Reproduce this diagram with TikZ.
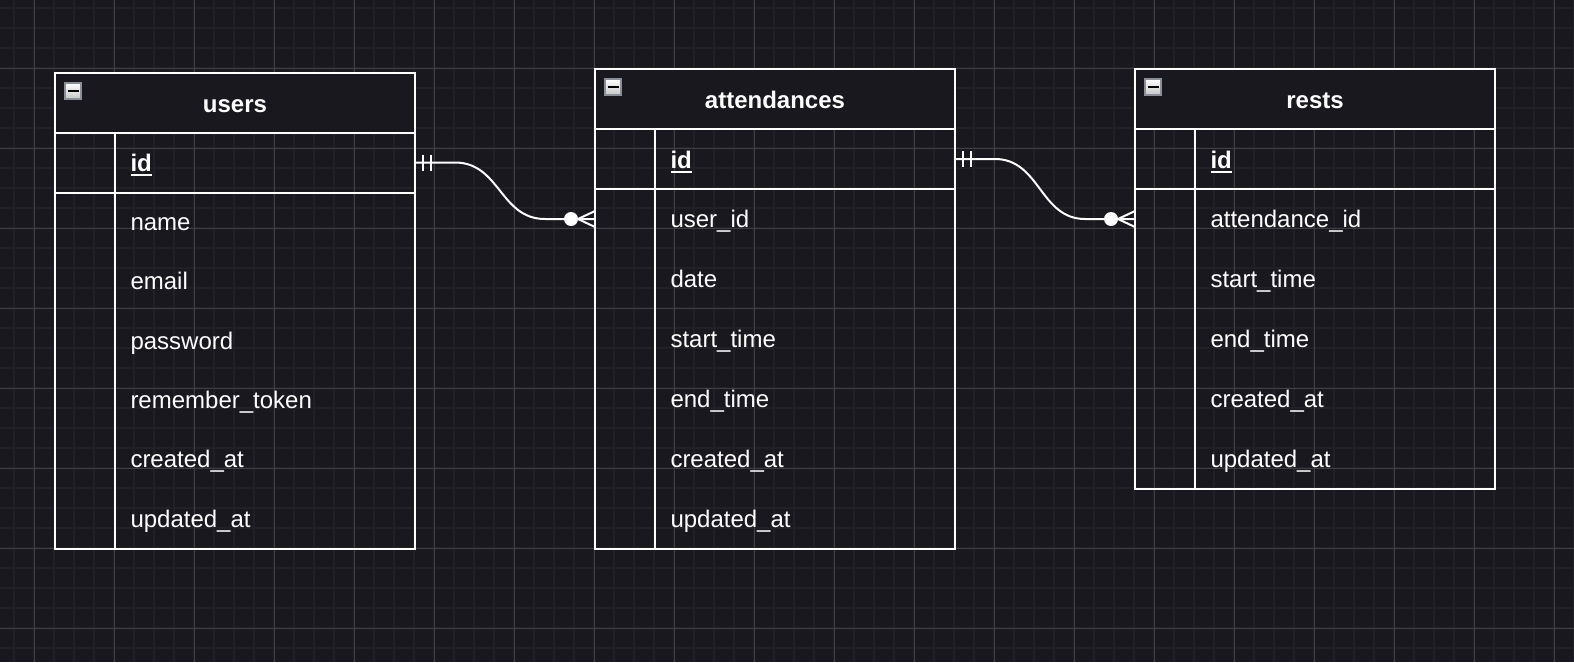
\documentclass[tikz,border=0pt]{standalone}
\usepackage{fontspec}
\setmainfont{Liberation Sans}
\usetikzlibrary{calc}

\definecolor{canvas}{HTML}{1A181F}
\definecolor{minorgrid}{HTML}{222027}
\definecolor{majorgrid}{HTML}{403F44}
\definecolor{iconedge}{HTML}{8B8F98}

% primary key: bold and underlined
\newcommand{\pkey}[1]{\setbox0\hbox{\bfseries #1}\rlap{\rule[-4.4pt]{\wd0}{2pt}}\box0}

\begin{document}
\catcode`\_=12
\begin{tikzpicture}
	[x=1pt,y=-1pt,
	 every node/.style={font=\fontsize{24}{28}\selectfont,text=white,inner sep=0pt,outer sep=0pt},
	 minor/.style={draw=minorgrid,line width=2pt},
	 major/.style={draw=majorgrid,line width=1pt},
	 frame/.style={draw=white,line width=2pt},
	 rel/.style={draw=white,line width=2pt},
	 tablebox/.style={frame,minimum width=360pt,anchor=north west},
	 head/.style={frame,fill=canvas,minimum width=360pt,minimum height=60pt,anchor=north west,
	   font=\fontsize{24}{28}\selectfont\bfseries,text height=19pt,text depth=0pt},
	 field/.style={minimum width=360pt,minimum height=#1,text width=360pt,align=left,anchor=north west,
	   text height=16pt,text depth=0pt,execute at begin node={\hspace*{75.5pt}}},
	 field/.default=60pt,
	 keyrow/.style={field,text height=18.5pt},
	 collapse/.style={draw=iconedge,line width=2pt,top color=white,bottom color=black!22,
	   minimum size=16pt,text=black}]
\useasboundingbox (0,0) rectangle (1574,662);
% canvas and grid
\fill[canvas] (0,0) rectangle (1574,662);
\foreach \x in {14,34,...,1574} \draw[minor] (\x,0) -- (\x,662);
\foreach \y in {8,28,...,662} \draw[minor] (0,\y) -- (1574,\y);
\foreach \x in {34,114,...,1574} \draw[major] (\x,0) -- (\x,662);
\foreach \y in {68,148,...,662} \draw[major] (0,\y) -- (1574,\y);

% users
\node[tablebox,minimum height=476.5pt] (users) at (55,72.5) {};
\node[head] (users-head) at (users.north west) {users};
\node[collapse] (users-icon) at ($(users.north west)+(18,18.5)$) {\rule[-1.1pt]{11pt}{2.2pt}};
\node[keyrow] (users-id) at (users-head.south west) {\pkey{id}};
\foreach \f [count=\i from 0] in {name,email,password,remember_token,created_at,updated_at}
	\node[field=59.4pt] (users-\f) at ($(users-id.south west)+(0,{59.4*\i})$) {\f};
\draw[frame] (users-id.south west) -- (users-id.south east);
\draw[frame] ($(users-id.north west)+(60,0)$) -- ($(users.south west)+(60,0)$);

% attendances
\node[tablebox,minimum height=480pt] (attendances) at (595,69) {};
\node[head] (attendances-head) at (attendances.north west) {attendances};
\node[collapse] (attendances-icon) at ($(attendances.north west)+(18,18)$) {\rule[-1.1pt]{11pt}{2.2pt}};
\node[keyrow] (attendances-id) at (attendances-head.south west) {\pkey{id}};
\foreach \f [count=\i from 0] in {user_id,date,start_time,end_time,created_at,updated_at}
	\node[field] (attendances-\f) at ($(attendances-id.south west)+(0,{60*\i})$) {\f};
\draw[frame] (attendances-id.south west) -- (attendances-id.south east);
\draw[frame] ($(attendances-id.north west)+(60,0)$) -- ($(attendances.south west)+(60,0)$);

% rests
\node[tablebox,minimum height=420pt] (rests) at (1135,69) {};
\node[head] (rests-head) at (rests.north west) {rests};
\node[collapse] (rests-icon) at ($(rests.north west)+(18,18)$) {\rule[-1.1pt]{11pt}{2.2pt}};
\node[keyrow] (rests-id) at (rests-head.south west) {\pkey{id}};
\foreach \f [count=\i from 0] in {attendance_id,start_time,end_time,created_at,updated_at}
	\node[field] (rests-\f) at ($(rests-id.south west)+(0,{60*\i})$) {\f};
\draw[frame] (rests-id.south west) -- (rests-id.south east);
\draw[frame] ($(rests-id.north west)+(60,0)$) -- ($(rests.south west)+(60,0)$);

% relations: one (mandatory) to many (optional)
\foreach \a/\b in {users-id/attendances-user_id, attendances-id/rests-attendance_id}
{
	\draw[rel] (\a.east) -- ++(40,0) .. controls +(45,0) and +(-45,0) .. ($(\b.west)+(-50,0)$) -- (\b.west);
	\foreach \d in {8,16}
		\draw[rel] ($(\a.east)+(\d,-8)$) -- ++(0,16);
	\fill[white] ($(\b.west)+(-24,0)$) circle (7pt);
	\draw[rel] ($(\b.west)+(0,-8)$) -- ++(-17,8) -- ++(17,8);
}
\end{tikzpicture}
\end{document}
